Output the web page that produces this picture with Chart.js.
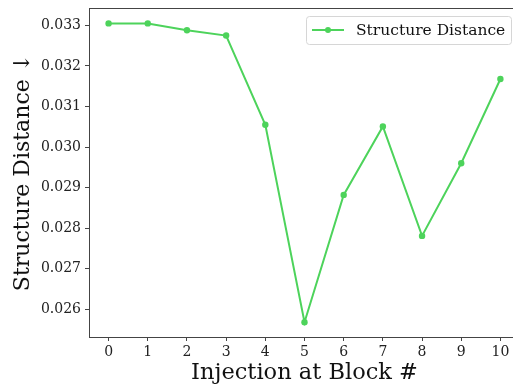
<!DOCTYPE html>
<html>
<head>
<meta charset="utf-8">
<script src="https://cdn.jsdelivr.net/npm/chart.js@4/dist/chart.umd.min.js"></script>
<style>
  html, body { margin: 0; padding: 0; background: #fff; }
  #wrap { width: 513px; height: 385px; overflow: hidden; position: relative; }
  canvas { display: block; }
</style>
</head>
<body>
<div id="wrap"><canvas id="myChart" width="520" height="385"></canvas></div>
<script>
// block index on the x axis
const blocks = [0, 1, 2, 3, 4, 5, 6, 7, 8, 9, 10]

// structure distance
const distance = [0.03305, 0.03305, 0.03288, 0.03275, 0.03055, 0.02568, 0.02882, 0.03051, 0.02781, 0.02960, 0.03168]

// tick labels
const xTicks = [0, 1, 2, 3, 4, 5, 6, 7, 8, 9, 10]
const yTicks = [0.026, 0.027, 0.028, 0.029, 0.030, 0.031, 0.032, 0.033]

const seriesLabel = "Structure Distance"
const green = '#4dd35b'
const serif = "'DejaVu Serif', serif"

// box around the plot, like matplotlib spines
const frame = {
    id: 'frame',
    afterDraw(chart) {
        const a = chart.chartArea, ctx = chart.ctx
        ctx.save()
        ctx.strokeStyle = '#444'
        ctx.lineWidth = 1
        ctx.strokeRect(Math.round(a.left) + 0.5, Math.round(a.top) + 0.5,
            Math.round(a.right - a.left), Math.round(a.bottom - a.top))
        ctx.restore()
    }
}

// legend box in the upper right corner
const legendBox = {
    id: 'legendBox',
    afterDraw(chart) {
        const ctx = chart.ctx
        const x = 306.5, y = 16.5, w = 205, h = 28
        ctx.save()
        ctx.fillStyle = 'rgba(255,255,255,0.8)'
        ctx.strokeStyle = '#d6d6d6'
        ctx.lineWidth = 1
        ctx.beginPath()
        ctx.roundRect(x, y, w, h, 3)
        ctx.fill()
        ctx.stroke()
        ctx.strokeStyle = green
        ctx.lineWidth = 2
        ctx.beginPath()
        ctx.moveTo(312, y + 13.5)
        ctx.lineTo(344, y + 13.5)
        ctx.stroke()
        ctx.fillStyle = green
        ctx.beginPath()
        ctx.arc(328, y + 13.5, 3, 0, Math.PI * 2)
        ctx.fill()
        ctx.fillStyle = '#111'
        ctx.font = "15.5px " + serif
        ctx.textBaseline = 'middle'
        ctx.fillText(seriesLabel, 356, y + 14)
        ctx.restore()
    }
}

function keepTicks(list) {
    return function (scale) {
        scale.ticks = list.map(v => ({ value: v }))
    }
}

const ctx = document.getElementById('myChart').getContext('2d')
const chart = new Chart(ctx, {
    type: 'line',
    data: {
        datasets: [{
            label: seriesLabel,
            data: blocks.map((b, i) => ({ x: b, y: distance[i] })),
            borderColor: green,
            backgroundColor: green,
            borderWidth: 2,
            pointRadius: 3.2,
            pointHoverRadius: 3.2,
            pointBorderWidth: 0,
            tension: 0
        }]
    },
    options: {
        responsive: false,
        animation: false,
        devicePixelRatio: 1,
        layout: { autoPadding: false, padding: { top: 8, right: 0, left: 0, bottom: 0 } },
        plugins: {
            legend: { display: false },
            tooltip: { enabled: false }
        },
        scales: {
            x: {
                type: 'linear',
                min: -0.5,
                max: 10.5,
                afterBuildTicks: keepTicks(xTicks),
                afterFit(scale) {
                    scale.height = 48
                    scale.paddingLeft = 0
                    scale.paddingRight = 0
                },
                grid: { drawOnChartArea: false, tickLength: 4, tickColor: '#444', color: '#444' },
                border: { display: false },
                ticks: {
                    color: '#222',
                    padding: 3,
                    maxRotation: 0,
                    font: { family: serif, size: 14 },
                    callback: v => String(v)
                },
                title: {
                    display: true,
                    text: 'Injection at Block #',
                    color: '#111',
                    font: { family: serif, size: 22.5 },
                    padding: { top: 0, bottom: -2 }
                }
            },
            y: {
                min: 0.025316,
                max: 0.03343,
                afterBuildTicks: keepTicks(yTicks),
                afterFit(scale) {
                    scale.width = 89
                    scale.paddingTop = 0
                    scale.paddingBottom = 0
                },
                grid: { drawOnChartArea: false, tickLength: 4, tickColor: '#444', color: '#444' },
                border: { display: false },
                ticks: {
                    color: '#222',
                    padding: 4,
                    font: { family: serif, size: 14 },
                    callback: v => v.toFixed(3)
                },
                title: {
                    display: true,
                    text: 'Structure Distance \u2193',
                    color: '#111',
                    font: { family: serif, size: 22 },
                    padding: { top: 10, bottom: 0 }
                }
            }
        }
    },
    plugins: [frame, legendBox]
})
</script>
</body>
</html>
